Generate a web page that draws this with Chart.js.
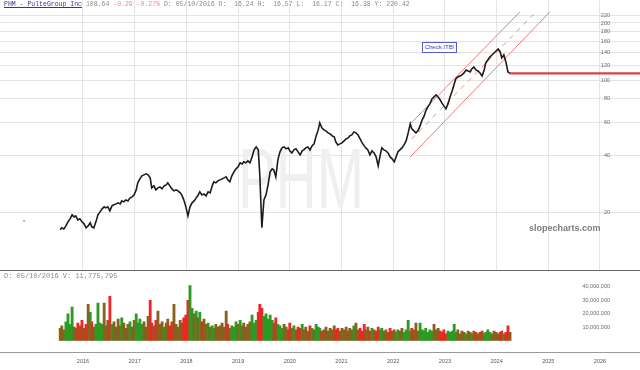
<!DOCTYPE html>
<html>
<head>
<meta charset="utf-8">
<title>PHM - PulteGroup Inc</title>
<script src="https://cdn.jsdelivr.net/npm/chart.js@4.4.1/dist/chart.umd.min.js"></script>
<style>
  body { margin: 0; background: #fff; }
  #wrap { position: relative; width: 640px; height: 370px; overflow: hidden; }
  #priceCanvas { position: absolute; left: 0; top: 0; }
  #volCanvas { position: absolute; left: 0; top: 271px; }
  .mono { position: absolute; font-family: "Liberation Mono", monospace; white-space: pre; color: #8a8a8a; }
  #hdr { left: 4px; top: 1px; font-size: 6.5px; line-height: 8px; }
  #hdr .ttl { color: #3434a8; text-decoration: underline; }
  #hdr .neg { color: #f08c8c; }
  #volHdr { left: 4px; top: 272px; font-size: 7px; line-height: 9px; }
  .sep { position: absolute; left: 0; width: 640px; height: 0; }
  #sepTop { top: 270px; border-top: 1px solid #666; }
  #sepBottom { top: 352px; border-top: 1px solid #9a9a9a; }
  #note { position: absolute; left: 422px; top: 42px; width: 33px; height: 9px; border: 1px solid #5a5ad0;
          background: #fff; color: #3b3bd0; font: 6px "Liberation Sans", sans-serif; line-height: 9px;
          text-align: center; white-space: nowrap; }
  #brand { position: absolute; left: 529px; top: 223px; font: bold 9px "Liberation Sans", sans-serif; color: #7c7c7c; }
</style>
</head>
<body>
<div id="wrap">
  <canvas id="priceCanvas" width="640" height="270"></canvas>
  <canvas id="volCanvas" width="640" height="99"></canvas>
  <div id="hdr" class="mono"><span class="ttl">PHM - PulteGroup Inc</span> 108.64 <span class="neg">-0.29 -0.27%</span> D: 05/10/2016 O:  16.24 H:  16.57 L:  16.17 C:  16.38 Y: 220.42</div>
  <div id="volHdr" class="mono">D: 05/10/2016 V: 11,775,795</div>
  <div id="sepTop" class="sep"></div>
  <div id="sepBottom" class="sep"></div>
  <div id="note">Check ITB!</div>
  <div id="brand">slopecharts.com</div>
</div>
<script>

// sample dates (decimal years)
const dates = [
  2015.56, 2015.59, 2015.63, 2015.67, 2015.71, 2015.75, 2015.79, 2015.83, 2015.86, 2015.90,
  2015.94, 2015.98, 2016.02, 2016.06, 2016.10, 2016.14, 2016.17, 2016.21, 2016.25, 2016.29,
  2016.33, 2016.37, 2016.41, 2016.44, 2016.48, 2016.52, 2016.56, 2016.60, 2016.64, 2016.68,
  2016.72, 2016.75, 2016.79, 2016.83, 2016.87, 2016.91, 2016.95, 2016.99, 2017.03, 2017.06,
  2017.10, 2017.14, 2017.18, 2017.22, 2017.26, 2017.30, 2017.33, 2017.37, 2017.41, 2017.45,
  2017.49, 2017.53, 2017.57, 2017.61, 2017.64, 2017.68, 2017.72, 2017.76, 2017.80, 2017.84,
  2017.88, 2017.91, 2017.95, 2017.99, 2018.03, 2018.07, 2018.11, 2018.15, 2018.19, 2018.22,
  2018.26, 2018.30, 2018.34, 2018.38, 2018.42, 2018.46, 2018.50, 2018.53, 2018.57, 2018.61,
  2018.65, 2018.69, 2018.73, 2018.77, 2018.80, 2018.84, 2018.88, 2018.92, 2018.96, 2019.00,
  2019.04, 2019.08, 2019.11, 2019.15, 2019.19, 2019.23, 2019.27, 2019.31, 2019.35, 2019.39,
  2019.42, 2019.46, 2019.50, 2019.54, 2019.58, 2019.62, 2019.66, 2019.69, 2019.73, 2019.77,
  2019.81, 2019.85, 2019.89, 2019.93, 2019.97, 2020.00, 2020.04, 2020.08, 2020.12, 2020.16,
  2020.20, 2020.24, 2020.27, 2020.31, 2020.35, 2020.39, 2020.43, 2020.47, 2020.51, 2020.55,
  2020.58, 2020.62, 2020.66, 2020.70, 2020.74, 2020.78, 2020.82, 2020.86, 2020.89, 2020.93,
  2020.97, 2021.01, 2021.05, 2021.09, 2021.13, 2021.16, 2021.20, 2021.24, 2021.28, 2021.32,
  2021.36, 2021.40, 2021.44, 2021.47, 2021.51, 2021.55, 2021.59, 2021.63, 2021.67, 2021.71,
  2021.75, 2021.78, 2021.82, 2021.86, 2021.90, 2021.94, 2021.98, 2022.02, 2022.05, 2022.09,
  2022.13, 2022.17, 2022.21, 2022.25, 2022.29, 2022.33, 2022.36, 2022.40, 2022.44, 2022.48,
  2022.52, 2022.56, 2022.60, 2022.63, 2022.67, 2022.71, 2022.75, 2022.79, 2022.83, 2022.87,
  2022.91, 2022.94, 2022.98, 2023.02, 2023.06, 2023.10, 2023.14, 2023.18, 2023.21, 2023.25,
  2023.29, 2023.33, 2023.37, 2023.41, 2023.45, 2023.49, 2023.52, 2023.56, 2023.60, 2023.64,
  2023.68, 2023.72, 2023.76, 2023.79, 2023.83, 2023.87, 2023.91, 2023.95, 2023.99, 2024.03,
  2024.07, 2024.10, 2024.14, 2024.18, 2024.22, 2024.26
];

// closing price
const closes = [
  16.28, 16.68, 16.47, 17.08, 17.93, 18.60, 19.52, 19.05, 19.29, 18.37,
  18.60, 17.93, 17.50, 16.68, 17.08, 17.72, 16.88, 16.68, 17.93, 19.52,
  20.24, 20.99, 21.51, 21.25, 21.51, 20.49, 21.77, 22.04, 22.30, 22.58,
  22.30, 23.13, 22.85, 23.41, 23.13, 23.99, 24.28, 24.87, 26.43, 28.77,
  30.20, 31.32, 31.70, 32.08, 31.70, 30.57, 27.08, 27.74, 26.43, 27.08,
  27.41, 26.75, 27.74, 28.08, 28.77, 27.74, 26.75, 26.11, 26.43, 26.11,
  25.49, 24.87, 23.41, 21.51, 19.29, 21.51, 22.58, 23.13, 23.99, 24.58,
  25.80, 24.87, 25.18, 24.58, 25.80, 25.49, 27.74, 29.12, 28.77, 29.47,
  29.83, 30.20, 30.57, 30.94, 29.83, 29.12, 31.32, 32.87, 34.09, 34.95,
  36.66, 36.22, 37.11, 36.66, 37.56, 36.66, 39.42, 42.92, 44.50, 42.92,
  31.70, 16.68, 23.41, 24.87, 28.08, 32.87, 34.09, 33.68, 30.94, 38.02,
  41.89, 43.97, 44.50, 43.44, 43.97, 42.40, 41.38, 42.92, 43.44, 41.89,
  40.39, 42.40, 42.92, 43.97, 44.50, 42.92, 45.05, 46.15, 50.85, 54.69,
  59.53, 56.03, 54.69, 54.03, 52.74, 52.10, 50.85, 50.24, 47.29, 45.60,
  46.15, 46.72, 47.86, 49.05, 49.63, 50.85, 51.47, 53.38, 52.74, 51.47,
  49.05, 46.72, 45.05, 43.97, 42.92, 40.39, 42.40, 41.38, 39.42, 35.35,
  40.39, 43.97, 42.92, 42.40, 41.38, 39.42, 38.48, 37.11, 38.95, 41.89,
  42.92, 43.97, 45.60, 47.86, 52.74, 58.81, 55.35, 54.03, 52.74, 54.03,
  57.40, 61.73, 64.80, 68.85, 72.27, 74.94, 79.62, 81.58, 83.58, 81.58,
  78.67, 75.86, 73.15, 70.54, 74.94, 81.58, 87.73, 95.50, 101.47, 103.96,
  105.22, 106.51, 109.12, 113.16, 111.80, 110.45, 114.54, 117.35, 113.16, 111.80,
  109.12, 105.22, 113.16, 123.18, 127.74, 132.47, 135.72, 139.05, 142.46, 145.95,
  140.74, 130.87, 135.72, 124.68, 110.45, 108.64
];

// volume, millions of shares
const volumeM = [
  9, 11, 8, 14, 20, 12, 25, 10, 9, 13,
  11, 15, 9, 12, 27, 21, 14, 10, 12, 28,
  13, 12, 28, 11, 15, 33, 12, 14, 10, 16,
  11, 17, 13, 9, 12, 14, 10, 15, 20, 13,
  16, 12, 14, 10, 18, 30, 13, 11, 15, 22,
  12, 14, 10, 13, 16, 11, 14, 27, 12, 10,
  15, 13, 17, 19, 30, 41, 24, 20, 22, 17,
  21, 14, 16, 12, 13, 10, 11, 9, 12, 10,
  11, 13, 10, 22, 12, 9, 11, 10, 14, 12,
  15, 11, 13, 10, 12, 14, 19, 13, 15, 21,
  27, 24, 18, 20, 16, 19, 15, 13, 17, 12,
  11, 9, 12, 10, 8, 13, 9, 11, 8, 10,
  9, 12, 8, 10, 7, 11, 9, 8, 12, 10,
  9, 7, 8, 10, 7, 9, 8, 11, 8, 9,
  7, 9, 8, 10, 7, 9, 8, 11, 13, 8,
  9, 7, 12, 8, 10, 7, 9, 8, 7, 10,
  8, 9, 7, 8, 6, 9, 7, 8, 6, 8,
  7, 9, 6, 8, 15, 7, 9, 8, 13, 7,
  13, 8, 7, 9, 6, 8, 7, 12, 8, 9,
  7, 6, 8, 5, 7, 6, 7, 12, 6, 8,
  5, 7, 6, 5, 7, 6, 5, 7, 6, 5,
  6, 7, 5, 6, 8, 6, 5, 7, 6, 5,
  6, 7, 5, 6, 11, 6
];

// trend channel drawn on the chart: [date, price] end points
const channelUpper = [[2022.33, 58.8], [2024.45, 228.6]];
const channelMid   = [[2022.36, 49.0], [2024.72, 223.0]];
const channelLower = [[2022.33, 39.4], [2025.03, 228.6]];
const cursorPoint  = [[2014.86, 18.15]];

const yearTicks   = [2016, 2017, 2018, 2019, 2020, 2021, 2022, 2023, 2024, 2025, 2026];
const priceTicks  = [20, 40, 60, 80, 100, 120, 140, 160, 180, 200, 220];
const volumeTicks = [10000000, 20000000, 30000000, 40000000];

const X_MIN = 2014.395, X_MAX = 2026.774;
const GRID = '#e4e4e4';
const GREEN = '#2c9a24', RED = '#ee2626', BROWN = '#86621e';
const LABEL_FONT = '5.5px "Liberation Sans", Arial, sans-serif';

Chart.defaults.font.family = '"Liberation Sans", Arial, sans-serif';

const toXY = pairs => pairs.map(p => ({ x: p[0], y: p[1] }));
const lastClose = closes[closes.length - 1];

const watermark = {
	id: 'watermark',
	beforeDatasetsDraw: (chart) => {
		const { ctx, chartArea } = chart;
		ctx.save();
		ctx.translate(chartArea.left + 301, chartArea.top + 208);
		ctx.scale(0.66, 1);
		ctx.font = '86px "Liberation Sans", Arial, sans-serif';
		ctx.textAlign = 'center';
		ctx.textBaseline = 'alphabetic';
		ctx.fillStyle = '#efefef';
		ctx.fillText('PHM', 0, 0);
		ctx.restore();
	}
};

// y labels sit inside the plot, right aligned 30px from the edge
function insideLabels(ticks, fmt) {
	return {
		id: 'insideLabels',
		afterDraw: (chart) => {
			const { ctx, chartArea, scales } = chart;
			ctx.save();
			ctx.font = LABEL_FONT;
			ctx.fillStyle = '#6a6a6a';
			ctx.textAlign = 'right';
			ctx.textBaseline = 'middle';
			ticks.forEach(v => ctx.fillText(fmt(v), chartArea.right - 30, scales.y.getPixelForValue(v)));
			ctx.restore();
		}
	};
}

new Chart(document.getElementById('priceCanvas'), {
	type: 'line',
	data: {
		datasets: [
			{ data: dates.map((d, i) => ({ x: d, y: closes[i] })), borderColor: '#1c1c1c', borderWidth: 1.6, pointRadius: 0, tension: 0 },
			{ data: [{ x: dates[dates.length - 1], y: lastClose }, { x: X_MAX, y: lastClose }], borderColor: '#d94040', borderWidth: 2.2, pointRadius: 0 },
			{ data: toXY(channelUpper), borderColor: '#f07a7a', borderWidth: 1, pointRadius: 0 },
			{ data: toXY(channelMid), borderColor: '#f28a8a', borderWidth: 1, borderDash: [5, 5], pointRadius: 0 },
			{ data: toXY(channelLower), borderColor: '#f07a7a', borderWidth: 1, pointRadius: 0 },
			{ data: toXY(cursorPoint), showLine: false, pointRadius: 1, pointBackgroundColor: '#a0a0a0', pointBorderWidth: 0 }
		]
	},
	options: {
		responsive: false,
		animation: false,
		layout: { padding: 0, autoPadding: false },
		plugins: { legend: { display: false }, tooltip: { enabled: false } },
		elements: { point: { hoverRadius: 0 } },
		scales: {
			x: {
				type: 'linear', min: X_MIN, max: X_MAX, offset: false,
				afterBuildTicks: s => { s.ticks = yearTicks.map(v => ({ value: v })); },
				ticks: { display: false },
				grid: { color: GRID, drawTicks: false },
				border: { display: false }
			},
			y: {
				type: 'logarithmic', position: 'right', min: 10, max: 264.3,
				afterBuildTicks: s => { s.ticks = priceTicks.map(v => ({ value: v })); },
				ticks: { display: false },
				grid: { color: GRID, drawTicks: false },
				border: { display: false }
			}
		}
	},
	plugins: [watermark, insideLabels(priceTicks, v => String(v))]
});

// bar colour follows the move of the close
const barColors = closes.map((c, i) => {
	if (i === 0) return BROWN;
	const chg = c / closes[i - 1] - 1;
	if (chg > 0.03) return GREEN;
	if (chg < -0.03) return RED;
	return BROWN;
});

new Chart(document.getElementById('volCanvas'), {
	type: 'bar',
	data: {
		datasets: [{
			data: dates.map((d, i) => ({ x: d, y: volumeM[i] * 1000000 })),
			backgroundColor: barColors,
			borderWidth: 0,
			barPercentage: 1,
			categoryPercentage: 1,
			barThickness: 2.2
		}]
	},
	options: {
		responsive: false,
		animation: false,
		layout: { padding: 0, autoPadding: false },
		plugins: { legend: { display: false }, tooltip: { enabled: false } },
		scales: {
			x: {
				type: 'linear', min: X_MIN, max: X_MAX, offset: false,
				afterBuildTicks: s => { s.ticks = yearTicks.map(v => ({ value: v })); },
				ticks: { color: '#555', font: { size: 5.5 }, padding: 5.5, maxRotation: 0, callback: v => String(v) },
				grid: { display: false, drawTicks: false, offset: false },
				border: { display: false }
			},
			y: {
				position: 'right', min: -8900000, max: 51900000,
				afterBuildTicks: s => { s.ticks = volumeTicks.map(v => ({ value: v })); },
				ticks: { display: false },
				grid: { display: false, drawTicks: false },
				border: { display: false }
			}
		}
	},
	plugins: [insideLabels(volumeTicks, v => v.toLocaleString('en-US'))]
});
</script>
</body>
</html>
